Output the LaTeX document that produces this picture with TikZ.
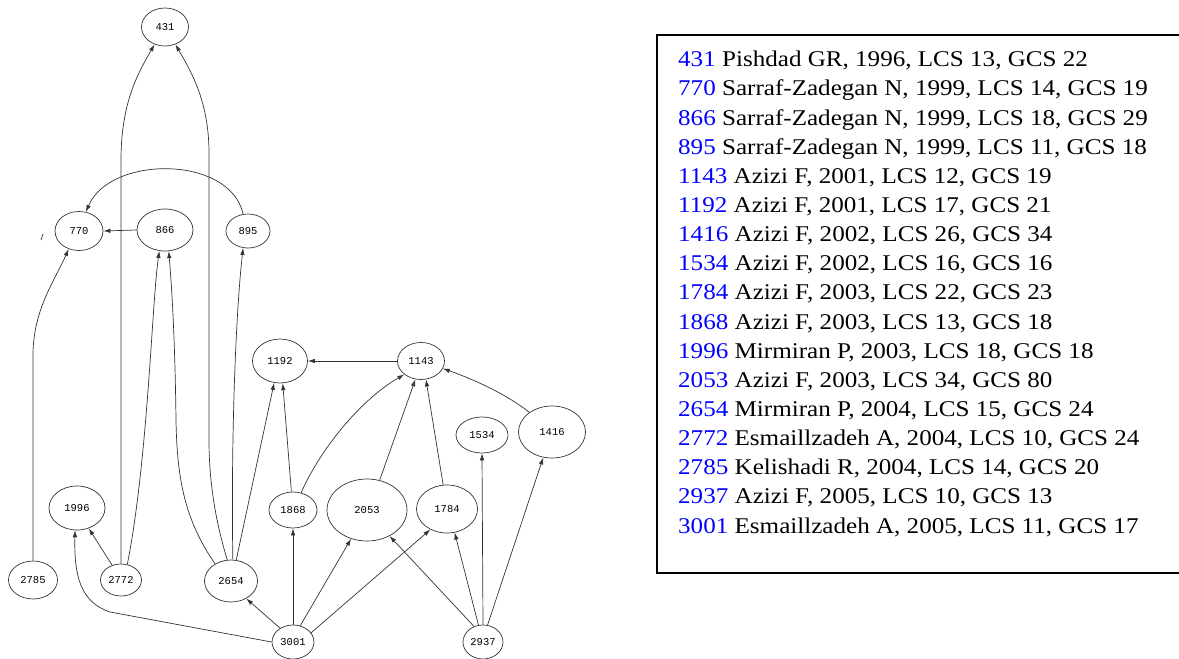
\documentclass[tikz,border=0pt]{standalone}
\usepackage{fontspec}
\setmainfont{Liberation Serif}
\newfontfamily\nodefont{Liberation Mono}
\usetikzlibrary{shapes.geometric,arrows.meta}
\definecolor{legblue}{RGB}{0,0,255}
\begin{document}
\begin{tikzpicture}[x=1pt,y=-1pt,
  nd/.style={ellipse,draw=black!80,line width=0.7pt,inner sep=0pt,font=\nodefont\fontsize{10.5}{10.5}\selectfont},
  e/.style={draw=black!80,line width=0.7pt,-{Latex[length=7pt,width=4.5pt]}},
  leg/.style={anchor=base west,inner sep=0pt,font=\fontsize{22.5}{24}\selectfont}]
\useasboundingbox (0,0) rectangle (1179,659);
% nodes
\node[nd,minimum width=47pt,minimum height=38pt] (n431) at (165,27) {431};
\node[nd,minimum width=48pt,minimum height=39pt] (n770) at (79,231) {770};
\node[nd,minimum width=56pt,minimum height=42pt] (n866) at (165,230) {866};
\node[nd,minimum width=44pt,minimum height=34pt] (n895) at (248,231) {895};
\node[nd,minimum width=55pt,minimum height=44pt] (n1192) at (280,361) {1192};
\node[nd,minimum width=47pt,minimum height=37pt] (n1143) at (421,361) {1143};
\node[nd,minimum width=52pt,minimum height=36pt] (n1534) at (482,435) {1534};
\node[nd,minimum width=67pt,minimum height=52pt] (n1416) at (552,432) {1416};
\node[nd,minimum width=56pt,minimum height=44pt] (n1996) at (77,508) {1996};
\node[nd,minimum width=48pt,minimum height=36pt] (n1868) at (293,510) {1868};
\node[nd,minimum width=80pt,minimum height=62pt] (n2053) at (367,510) {2053};
\node[nd,minimum width=61pt,minimum height=48pt] (n1784) at (447,509) {1784};
\node[nd,minimum width=49pt,minimum height=38pt] (n2785) at (33,580) {2785};
\node[nd,minimum width=41pt,minimum height=32pt] (n2772) at (121,580) {2772};
\node[nd,minimum width=53pt,minimum height=42pt] (n2654) at (231,581) {2654};
\node[nd,minimum width=42pt,minimum height=34pt] (n3001) at (293,642) {3001};
\node[nd,minimum width=40pt,minimum height=34pt] (n2937) at (483,642) {2937};
% small stray mark
\draw[black!80,line width=0.7pt] (41,240) -- (43,234);
% edges
\draw[e] (n2772.north) -- (121,160) .. controls (121,100) and (140,70) .. (n431.239);
\draw[e] (n2654.100) .. controls (215,520) and (209,480) .. (209,440) -- (209,153) .. controls (209,100) and (190,70) .. (n431.301);
\draw[e] (n895.106) .. controls (230,155) and (110,155) .. (n770.70);
\draw[e] (n866.west) -- (n770.east);
\draw[e] (n2785.north) -- (33,355) .. controls (33,310) and (55,280) .. (n770.240);
\draw[e] (n2772.68) .. controls (148,460) and (152,300) .. (n866.255);
\draw[e] (n2772.121) -- (n1996.300);
\draw[e] (n2654.133) .. controls (185,520) and (177,480) .. (176,420) .. controls (175,340) and (172,290) .. (n866.280);
\draw[e] (n2654.85) .. controls (231,450) and (235,320) .. (n895.254);
\draw[e] (n2654.76) -- (n1192.255);
\draw[e] (n1868.95) -- (n1192.277);
\draw[e] (n1143.west) -- (n1192.east);
\draw[e] (n1868.65) .. controls (320,450) and (360,400) .. (n1143.219);
\draw[e] (n2053.67) -- (n1143.253);
\draw[e] (n1784.99) -- (n1143.285);
\draw[e] (n1416.139) .. controls (505,393) and (470,378) .. (n1143.341);
\draw[e] (n3001.133) -- (n2654.311);
\draw[e] (n3001.north) -- (n1868.south);
\draw[e] (n3001.66) -- (n2053.241);
\draw[e] (n3001.27) -- (n1784.231);
\draw[e] (n3001.west) -- (110,612) .. controls (80,602) and (74,575) .. (n1996.265);
\draw[e] (n2937.120) -- (n2053.311);
\draw[e] (n2937.105) -- (n1784.288);
\draw[e] (n2937.north) -- (n1534.south);
\draw[e] (n2937.75) -- (n1416.251);
% legend box
\draw[line width=1.6pt] (1182,35) -- (657,35) -- (657,573) -- (1182,573);
\foreach \num/\txt [count=\i] in {
 431/{Pishdad GR, 1996, LCS 13, GCS 22},
 770/{Sarraf-Zadegan N, 1999, LCS 14, GCS 19},
 866/{Sarraf-Zadegan N, 1999, LCS 18, GCS 29},
 895/{Sarraf-Zadegan N, 1999, LCS 11, GCS 18},
 1143/{Azizi F, 2001, LCS 12, GCS 19},
 1192/{Azizi F, 2001, LCS 17, GCS 21},
 1416/{Azizi F, 2002, LCS 26, GCS 34},
 1534/{Azizi F, 2002, LCS 16, GCS 16},
 1784/{Azizi F, 2003, LCS 22, GCS 23},
 1868/{Azizi F, 2003, LCS 13, GCS 18},
 1996/{Mirmiran P, 2003, LCS 18, GCS 18},
 2053/{Azizi F, 2003, LCS 34, GCS 80},
 2654/{Mirmiran P, 2004, LCS 15, GCS 24},
 2772/{Esmaillzadeh A, 2004, LCS 10, GCS 24},
 2785/{Kelishadi R, 2004, LCS 14, GCS 20},
 2937/{Azizi F, 2005, LCS 10, GCS 13},
 3001/{Esmaillzadeh A, 2005, LCS 11, GCS 17}}
 \node[leg] (leg\i) at (678,{66.7+29.15*(\i-1)}) {\scalebox{1.115}[1]{\textcolor{legblue}{\num} \txt}};
\end{tikzpicture}
\end{document}
